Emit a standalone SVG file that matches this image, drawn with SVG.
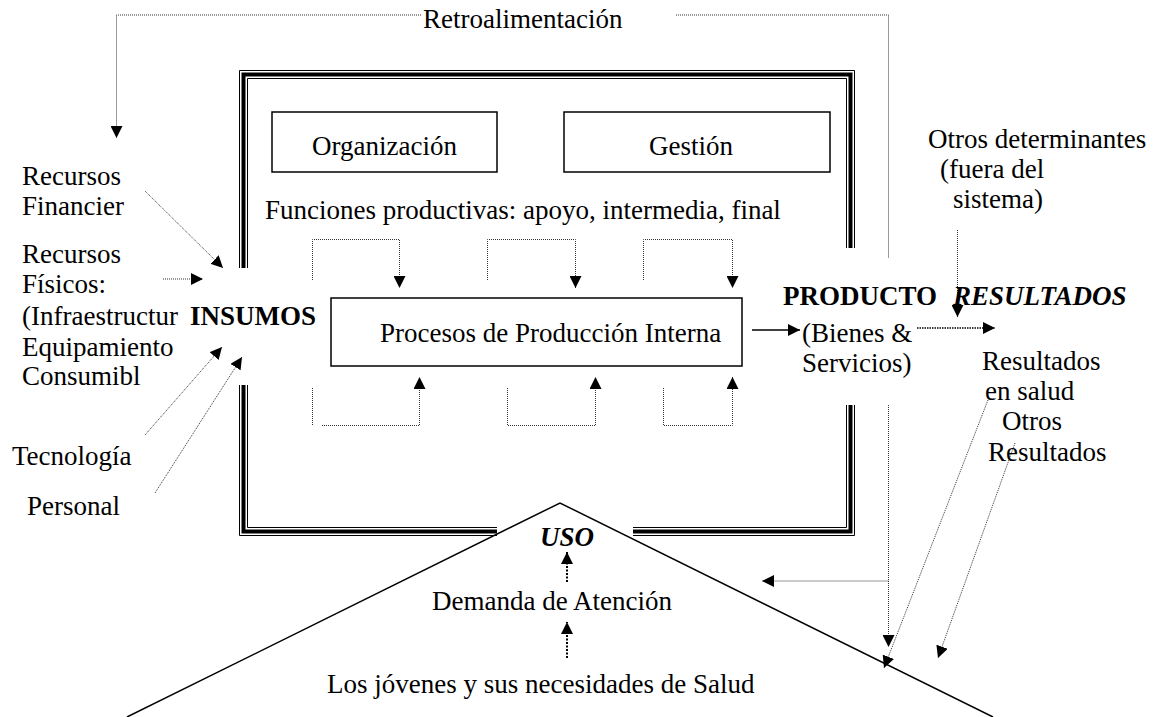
<svg xmlns="http://www.w3.org/2000/svg" width="1154" height="717" viewBox="0 0 1154 717" font-family="'Liberation Serif', 'Times New Roman', serif">
<defs>
<marker id="ah" markerUnits="userSpaceOnUse" markerWidth="12" markerHeight="12" refX="12" refY="6" orient="auto"><path d="M0,0 L12,6 L0,12 z" fill="#000"/></marker>
<style>
text{font-family:"Liberation Serif","Times New Roman",serif;font-size:27px;fill:#000}
.b{font-weight:bold}
.bi{font-weight:bold;font-style:italic}
.box{fill:#fff;stroke:#000;stroke-width:1.5}
.dot{fill:none;stroke:#333;stroke-width:1;stroke-dasharray:1 1}
.dotb{fill:none;stroke:#000;stroke-width:1.6;stroke-dasharray:1.5 1}
.dotk{fill:none;stroke:#000;stroke-width:2;stroke-dasharray:2 1.5}
.thin{fill:none;stroke:#000;stroke-width:1}
.thick{fill:none;stroke:#000;stroke-width:4}
.sol{fill:none;stroke:#000;stroke-width:1.5}
</style>
</defs>
<rect width="1154" height="717" fill="#fff"/>

<g id="frame">
<path class="thin" d="M239.5,268 V70.5 H854.5 V248 M239.5,385 V535.5 H497 M633,535.5 H854.5 V405"/>
<path class="thick" d="M243.5,268 V74.5 H850.5 V248 M243.5,385 V531.5 H497 M633,531.5 H850.5 V405"/>
<path class="thin" d="M247.5,268 V78.5 H846.5 V248 M247.5,385 V527.5 H497 M633,527.5 H846.5 V405"/>
</g>

<g id="uso-triangle">
<polyline class="sol" points="127,717 560,503 993,717"/>
</g>

<g id="connectors">
<path class="dot" d="M421,15 H116.5 V138" marker-end="url(#ah)"/>
<path class="dot" d="M676,15 H888.5 V258"/>
<path class="dot" d="M888.5,405 V647" marker-end="url(#ah)"/>
<path class="dot" d="M888.5,581 H762" marker-end="url(#ah)"/>
<line class="dot" x1="145" y1="191" x2="223" y2="268" marker-end="url(#ah)"/>
<line class="dot" x1="163" y1="279" x2="203" y2="279" marker-end="url(#ah)"/>
<line class="dot" x1="145" y1="435" x2="222" y2="347" marker-end="url(#ah)"/>
<line class="dot" x1="155" y1="493" x2="242" y2="357" marker-end="url(#ah)"/>
<path class="dot" d="M312.5,280 V239.5 H399.5 V288" marker-end="url(#ah)"/>
<path class="dot" d="M487.5,280 V239.5 H575.5 V288" marker-end="url(#ah)"/>
<path class="dot" d="M643.5,280 V239.5 H732.5 V288" marker-end="url(#ah)"/>
<path class="dot" d="M312.5,388 V425"/>
<path class="dot" d="M322,425.5 H419.5 V377" marker-end="url(#ah)"/>
<path class="dot" d="M507.5,388 V425.5 H595.5 V377" marker-end="url(#ah)"/>
<path class="dot" d="M663.5,388 V425.5 H732.5 V377" marker-end="url(#ah)"/>
<line class="sol" x1="752" y1="330" x2="800" y2="330" marker-end="url(#ah)"/>
<line class="dot" x1="957.5" y1="230" x2="957.5" y2="317" marker-end="url(#ah)"/>
<line class="dotb" x1="917" y1="328" x2="995" y2="328" marker-end="url(#ah)"/>
<line class="dot" x1="988" y1="400" x2="884" y2="668" marker-end="url(#ah)"/>
<line class="dot" x1="1015" y1="443" x2="938" y2="658" marker-end="url(#ah)"/>
<line class="dotk" x1="567" y1="582" x2="567" y2="552" marker-end="url(#ah)"/>
<line class="dotk" x1="567" y1="658" x2="567" y2="622" marker-end="url(#ah)"/>
</g>

<g id="retro"><text x="423" y="28">Retroalimentación</text></g>

<g id="organizacion">
<rect class="box" x="272" y="112" width="225" height="60"/>
<text x="384.5" y="155" text-anchor="middle">Organización</text>
</g>
<g id="gestion">
<rect class="box" x="564" y="112" width="266" height="60"/>
<text x="691" y="155" text-anchor="middle">Gestión</text>
</g>
<g id="funciones"><text x="265" y="219">Funciones productivas: apoyo, intermedia, final</text></g>

<g id="procesos">
<rect class="box" x="331" y="298" width="411" height="68"/>
<text x="380" y="342">Procesos de Producción Interna</text>
</g>

<g id="insumos"><text class="b" x="190" y="325">INSUMOS</text></g>

<g id="recursos-financier">
<text x="22" y="185">Recursos</text>
<text x="22" y="215">Financier</text>
</g>
<g id="recursos-fisicos">
<text x="22" y="263">Recursos</text>
<text x="22" y="293">Físicos:</text>
<text x="22" y="325">(Infraestructur</text>
<text x="22" y="356">Equipamiento</text>
<text x="22" y="385">Consumibl</text>
</g>
<g id="tecnologia"><text x="12" y="465">Tecnología</text></g>
<g id="personal"><text x="27" y="515">Personal</text></g>

<g id="producto">
<text class="b" x="783" y="305">PRODUCTO</text>
<text x="802" y="342">(Bienes &amp;</text>
<text x="802" y="372">Servicios)</text>
</g>
<g id="resultados">
<text class="bi" x="953" y="305">RESULTADOS</text>
<text x="982" y="370">Resultados</text>
<text x="985" y="400">en salud</text>
<text x="1002" y="430">Otros</text>
<text x="988" y="461">Resultados</text>
</g>
<g id="otros-determinantes">
<text x="928" y="148">Otros determinantes</text>
<text x="940" y="178">(fuera del</text>
<text x="953" y="208">sistema)</text>
</g>

<g id="uso"><text class="bi" x="540" y="546">USO</text></g>
<g id="demanda"><text x="432" y="610">Demanda de Atención</text></g>
<g id="jovenes"><text x="327" y="693">Los jóvenes y sus necesidades de Salud</text></g>
</svg>
